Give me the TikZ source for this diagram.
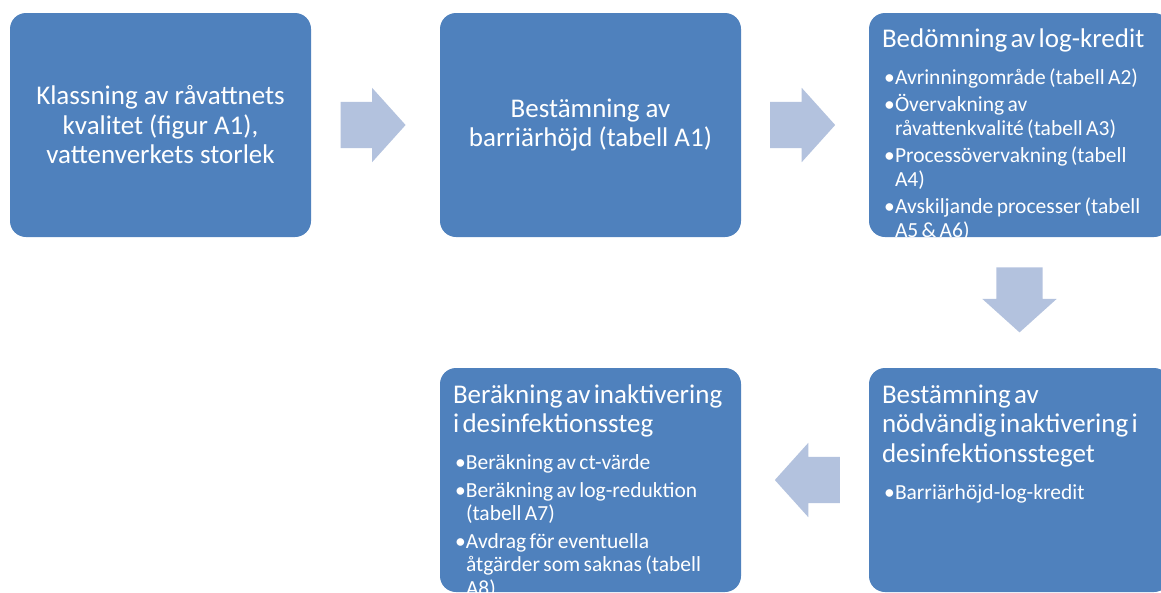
\documentclass[tikz,border=0pt]{standalone}
\usepackage{fontspec}
\setmainfont{Carlito}
\usetikzlibrary{shapes.arrows,calc}
\definecolor{boxblue}{HTML}{4F81BD}
\definecolor{arrowblue}{HTML}{B3C2DE}
\newcommand{\itm}[1]{\noindent\hangindent=13pt\hangafter=1\makebox[13pt][l]{\hspace{2pt}\textbullet}#1\par}
\newcommand{\boxtitle}[1]{{\fontsize{27}{29.5}\selectfont\rule{0pt}{24pt}#1\par}\vspace{9.5pt}\fontsize{21.5}{23.5}\selectfont\parskip=4pt}
\begin{document}
\begin{tikzpicture}[x=1pt,y=-1pt]
\tikzstyle{stepbox} = [rectangle, rounded corners=16pt, fill=boxblue, minimum width=301pt, minimum height=224pt, inner sep=0pt, text=white];
\tikzstyle{boxtext} = [font=\fontsize{27}{29.5}\selectfont, align=center];
\tikzstyle{listtext} = [anchor=north west, inner sep=0pt, text width=275pt, align=left, text=white];
\tikzstyle{blockarrow} = [single arrow, fill=arrowblue, minimum height=65pt, minimum width=74pt, inner xsep=0pt, inner ysep=23pt, single arrow head extend=14pt, single arrow tip angle=96];

\useasboundingbox (0,0) rectangle (1161,592);

\node[stepbox, boxtext] (klass) at (160.5,125) {Klassning av råvattnets\\kvalitet (figur A1),\\vattenverkets storlek};
\node[stepbox, boxtext] (bestam) at (590.5,125) {Bestämning av\\barriärhöjd (tabell A1)};
\node[stepbox] (bedom) at (1019.5,125) {};
\node[stepbox] (nodv) at (1019.5,480) {};
\node[stepbox] (berak) at (590.5,480) {};

\begin{scope}
\clip[rounded corners=16pt] (bedom.north west) rectangle (bedom.south east);
\node[listtext] (bedomtext) at ($(bedom.north west)+(13,10)$) {\boxtitle{Bedömning av log-kredit}
\itm{Avrinningområde (tabell A2)}
\itm{Övervakning av\newline råvattenkvalité (tabell A3)}
\itm{Processövervakning (tabell\newline A4)}
\itm{Avskiljande processer (tabell\newline A5 \& A6)}};
\end{scope}

\begin{scope}
\clip[rounded corners=16pt] (nodv.north west) rectangle (nodv.south east);
\node[listtext] (nodvtext) at ($(nodv.north west)+(13,11)$) {\boxtitle{Bestämning av\newline nödvändig inaktivering i\newline desinfektionssteget}
\itm{Barriärhöjd-log-kredit}};
\end{scope}

\begin{scope}
\clip[rounded corners=16pt] (berak.north west) rectangle (berak.south east);
\node[listtext] (beraktext) at ($(berak.north west)+(13,11)$) {\boxtitle{Beräkning av inaktivering\newline i desinfektionssteg}
\itm{Beräkning av ct-värde}
\itm{Beräkning av log-reduktion\newline (tabell A7)}
\itm{Avdrag för eventuella\newline åtgärder som saknas (tabell\newline A8)}};
\end{scope}

\node[blockarrow] (a-1) at ($(klass.east)!0.4!(bestam.west)$) {};
\node[blockarrow] (a-2) at ($(bestam.east)!0.4!(bedom.west)$) {};
\node[blockarrow, rotate=-90] (a-3) at ($(bedom.south)!0.4!(nodv.north)$) {};
\node[blockarrow, rotate=180] (a-4) at ($(nodv.west)!0.4!(berak.east)$) {};
\end{tikzpicture}
\end{document}
